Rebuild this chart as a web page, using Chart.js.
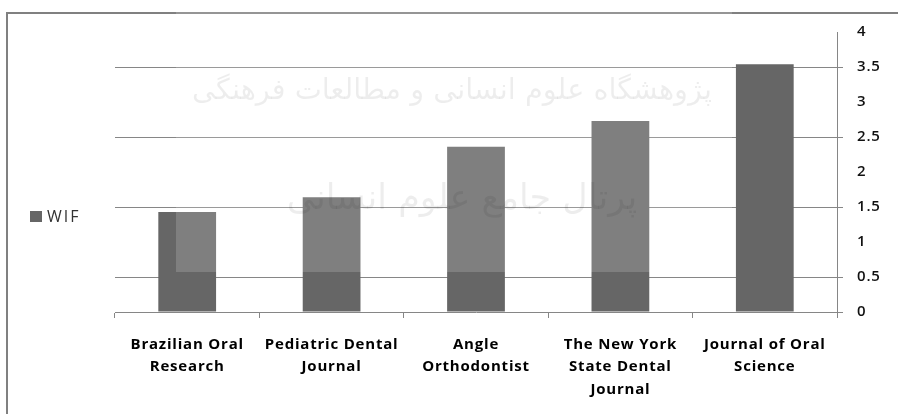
<!DOCTYPE html>
<html>
<head>
<meta charset="utf-8">
<script src="https://cdn.jsdelivr.net/npm/chart.js@4/dist/chart.umd.min.js"></script>
<style>
  html, body { margin: 0; padding: 0; background: #fff; }
  #wrap { position: relative; width: 898px; height: 414px; }
</style>
</head>
<body>
<div id="wrap"><canvas id="wifChart" width="898" height="414"></canvas></div>
<script>
// journals on the x axis (multi-line labels as in the original)
const journals = [
    ['Brazilian Oral', 'Research'],
    ['Pediatric Dental', 'Journal'],
    ['Angle', 'Orthodontist'],
    ['The New York', 'State Dental', 'Journal'],
    ['Journal of Oral', 'Science']
];
const wifValues = [1.43, 1.64, 2.36, 2.73, 3.54];
const seriesName = 'WIF';
const yTicks = [0, 0.5, 1, 1.5, 2, 2.5, 3, 3.5, 4];

const watermarkLines = ['پژوهشگاه علوم انسانی و مطالعات فرهنگی', 'پرتال جامع علوم انسانی'];

const barColor = '#666666';
const lineColor = '#868686';

const isMajor = (v) => v === 0 || Math.abs(v % 1 - 0.5) < 1e-9;

// outer frame, side legend and the faded scan watermark
const framePlugin = {
    id: 'frame',
    beforeDraw(chart) {
        const c = chart.ctx;
        c.save();
        c.fillStyle = '#fff';
        c.fillRect(0, 0, chart.width, chart.height);
        c.fillStyle = '#808080';
        c.fillRect(6, 12, chart.width, 2);
        c.fillRect(6, 12, 2, chart.height);
        c.restore();
        // the scanned labels look widely spaced
        c.letterSpacing = '0.8px';
    },
    afterDatasetsDraw(chart) {
        const c = chart.ctx;
        const ds = chart.data.datasets[0];
        c.letterSpacing = '0px';
        c.save();
        // legend
        c.fillStyle = ds.backgroundColor;
        c.fillRect(30, 211, 12, 11);
        c.fillStyle = '#333';
        c.font = '16px "Open Sans"';
        c.letterSpacing = '2px';
        c.textBaseline = 'middle';
        c.fillText(ds.label, 47, 217);
        c.letterSpacing = '0px';

        // lighter patch left by the watermark
        c.fillStyle = 'rgba(255,255,255,0.17)';
        c.fillRect(176, 0, 556, 272);

        // watermark text
        c.fillStyle = 'rgba(0,0,0,0.07)';
        c.textAlign = 'center';
        c.direction = 'rtl';
        const boxes = [[452, 92, 520, 44], [462, 200, 350, 70]];
        watermarkLines.forEach((t, i) => {
            const [cx, cy, w, size] = boxes[i];
            c.font = size + 'px "DejaVu Sans"';
            const m = c.measureText(t).width;
            c.font = Math.min(size, size * w / m).toFixed(1) + 'px "DejaVu Sans"';
            c.fillText(t, cx, cy);
        });
        c.restore();
    }
};

new Chart(document.getElementById('wifChart'), {
    type: 'bar',
    data: {
        labels: journals,
        datasets: [{
            label: seriesName,
            data: wifValues,
            backgroundColor: barColor,
            borderWidth: 0,
            categoryPercentage: 1,
            barPercentage: 0.4
        }]
    },
    options: {
        responsive: false,
        animation: false,
        layout: { padding: { left: 115, top: 32, right: 0, bottom: 0 } },
        plugins: {
            legend: { display: false },
            tooltip: { enabled: false }
        },
        scales: {
            x: {
                afterFit: (scale) => { scale.height = 102; },
                grid: {
                    offset: true,
                    drawOnChartArea: false,
                    color: lineColor,
                    tickLength: 6
                },
                border: { color: lineColor, width: 1 },
                ticks: {
                    color: '#000',
                    font: { family: 'Open Sans', size: 15, weight: 'bold', lineHeight: 1.5 },
                    padding: 15,
                    maxRotation: 0,
                    autoSkip: false
                }
            },
            y: {
                position: 'right',
                min: 0,
                max: 4,
                afterFit: (scale) => { scale.width = 61; },
                afterBuildTicks: (scale) => { scale.ticks = yTicks.map(v => ({ value: v })); },
                grid: {
                    color: (ctx) => (ctx.tick && isMajor(ctx.tick.value) && ctx.tick.value !== 0) ? lineColor : 'rgba(0,0,0,0)',
                    tickColor: (ctx) => (ctx.tick && isMajor(ctx.tick.value)) ? lineColor : 'rgba(0,0,0,0)',
                    tickLength: 6
                },
                border: { color: lineColor, width: 1 },
                ticks: {
                    color: '#111',
                    font: { family: 'Open Sans', size: 15, weight: '600' },
                    padding: 14,
                    callback: (v) => String(v)
                }
            }
        }
    },
    plugins: [framePlugin]
});
</script>
</body>
</html>
